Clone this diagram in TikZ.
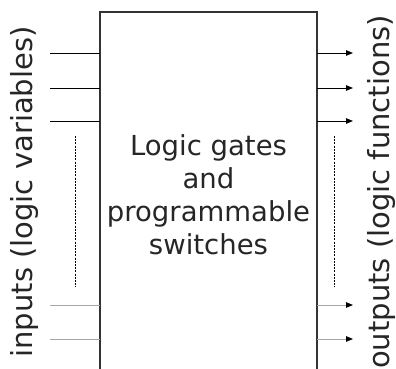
\documentclass[tikz,border=0pt]{standalone}
\usepackage{fontspec}
\setmainfont{DejaVu Sans}
\usetikzlibrary{arrows.meta}
\begin{document}
\begin{tikzpicture}[x=1pt,y=-1pt,
  label text/.style={font=\fontsize{27.5}{33}\selectfont, text=black!85, inner sep=0pt},
  side text/.style={label text, font=\fontsize{29}{34}\selectfont, rotate=90, anchor=base},
  frame/.style={line width=1.3pt, draw=black!80},
  wire/.style={line width=0.9pt, draw=black},
  faint wire/.style={line width=0.9pt, draw=black!35},
  outtip/.style={-{Triangle[length=7pt,width=5.5pt,color=black]}},
  gap/.style={line width=0.8pt, draw=black, dash pattern=on 2pt off 1.2pt}]
  \useasboundingbox (0,0) rectangle (396,369);

  % central block, open at the bottom
  \draw[frame] (100,369) -- (100,12) -- (317,12) -- (317,369);
  \node[label text, align=center] (core) at (208.5,195)
    {Logic gates\\and\\programmable\\switches};

  % wire end points
  \foreach \n/\y in {1/53,2/88,3/121,4/305,5/339} {
    \coordinate (in\n) at (50,\y);
    \coordinate (inb\n) at (100,\y);
    \coordinate (out\n) at (317,\y);
    \coordinate (outb\n) at (353,\y);
  }
  \foreach \n in {1,2,3} {
    \draw[wire] (in\n) -- (inb\n);
    \draw[wire,outtip] (out\n) -- (outb\n);
  }
  \foreach \n in {4,5} {
    \draw[faint wire] (in\n) -- (inb\n);
    \draw[faint wire,outtip] (out\n) -- (outb\n);
  }

  % ellipsis between wire groups
  \coordinate (ig1) at (75,136);  \coordinate (ig2) at (75,287);
  \coordinate (og1) at (334,136); \coordinate (og2) at (334,287);
  \draw[gap] (ig1) -- (ig2);
  \draw[gap] (og1) -- (og2);

  % side captions
  \node[side text] (inlabel) at (32,192) {inputs (logic variables)};
  \node[side text] (outlabel) at (389,192) {outputs (logic functions)};
\end{tikzpicture}
\end{document}
